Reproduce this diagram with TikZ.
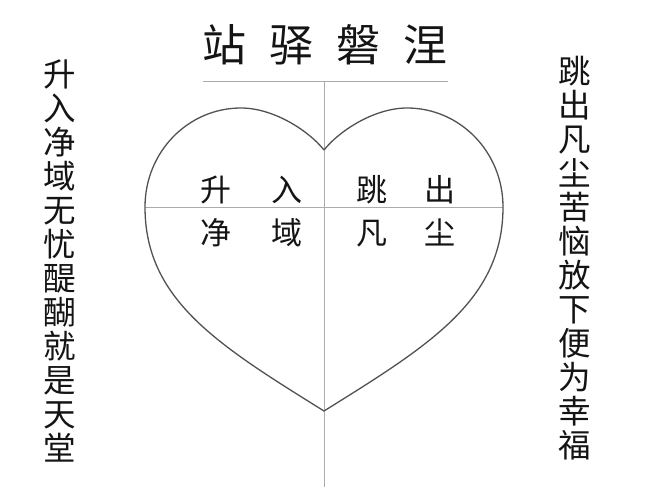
\documentclass[tikz,border=0pt]{standalone}
\usepackage{fontspec}
\newfontfamily\cjk{Noto Sans CJK SC}
\begin{document}
\begin{tikzpicture}[x=1pt,y=-1pt,
  guide/.style={draw=black!33, line width=1pt},
  heartline/.style={draw=black!68, line width=1.3pt},
  title/.style={font=\cjk\fontsize{44}{44}\selectfont, text=black!92, inner sep=0pt},
  inner/.style={font=\cjk\fontsize{31}{31}\selectfont, text=black!92, inner sep=0pt},
  vert/.style={font=\cjk\fontsize{32.5}{34}\selectfont, text=black!92, inner sep=0pt, align=center}]
\useasboundingbox (0,0) rectangle (650,487);
\fill[white] (0,0) rectangle (650,487);
% guide lines
\coordinate (hl) at (203,81);
\coordinate (hr) at (448,81);
\coordinate (vt) at (324,81);
\coordinate (vb) at (324,487);
\coordinate (ml) at (145,207);
\coordinate (mr) at (503,207);
\draw[guide] (hl) -- (hr);
\draw[guide] (vt) -- (vb);
\draw[guide] (ml) -- (mr);
% heart
\coordinate (dip) at (324,150);
\coordinate (tip) at (324,411);
\draw[heartline] (dip) .. controls (340,130) and (375,108) .. (407,108)
  .. controls (460,108) and (503,152) .. (mr)
  .. controls (503,300) and (430,345) .. (tip)
  .. controls (218,345) and (145,300) .. (ml)
  .. controls (145,152) and (188,108) .. (241,108)
  .. controls (273,108) and (308,130) .. (dip);
% texts
\node[title] (ttl) at (325,45) {站\hspace{23pt}驿\hspace{23pt}磐\hspace{23pt}涅};
\node[inner] (l1) at (251.5,190) {升\hspace{40pt}入};
\node[inner] (l2) at (251.5,233) {净\hspace{40pt}域};
\node[inner] (r1) at (406,190) {跳\hspace{37pt}出};
\node[inner] (r2) at (406,233) {凡\hspace{37pt}尘};
\node[vert] (lv) at (60,261) {升\\入\\净\\域\\无\\忧\\醍\\醐\\就\\是\\天\\堂};
\node[vert] (rv) at (575,258) {跳\\出\\凡\\尘\\苦\\恼\\放\\下\\便\\为\\幸\\福};
\end{tikzpicture}
\end{document}
